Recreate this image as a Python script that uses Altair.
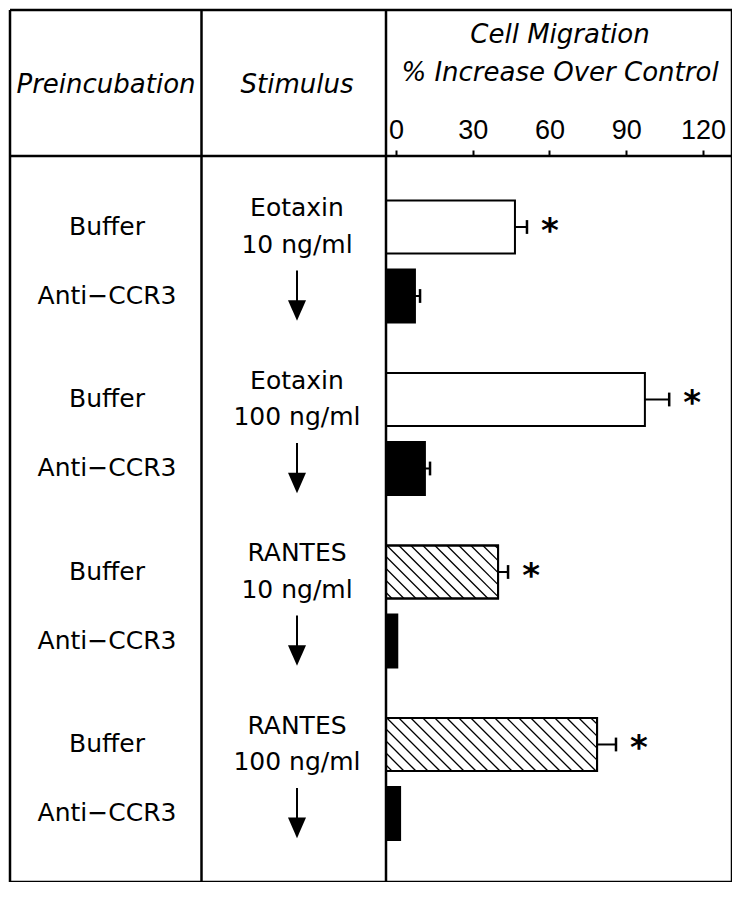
import altair as alt
import pandas as pd

# ---------------- data ----------------
stimulus_names = ["Eotaxin", "Eotaxin", "RANTES", "RANTES"]
stimulus_doses = ["10 ng/ml", "100 ng/ml", "10 ng/ml", "100 ng/ml"]
preincubations = ["Buffer", "Anti\u2212CCR3"]
migration_mean = [46.5, 7.4, 97.3, 11.3, 39.9, 0.5, 78.6, 1.6]
migration_sem = [4.7, 2.0, 9.5, 2.0, 3.9, 0.0, 7.4, 0.0]
significant = [True, False, True, False, True, False, True, False]
tick_values = [0, 30, 60, 90, 120]
header_pre = "Preincubation"
header_stim = "Stimulus"
header_title = ["Cell Migration", "% Increase Over Control"]

# ---------------- layout ----------------
W, H = 722, 872
COL1, COL2, HEADER_Y = 191.5, 376, 146
X_MIN, X_MAX = -3.91, 131.35
Y_MIN, Y_MAX = -3.145, 9.493
GROUP_STEP = 2.5
BAR_HALF = 0.385
PXX = (W - COL2) / (X_MAX - X_MIN)
PXY = H / (Y_MAX - Y_MIN)
FONT = "DejaVu Sans"

rows = []
for i, m in enumerate(migration_mean):
    g, k = divmod(i, 2)
    pos = g * GROUP_STEP + k
    if k == 1:
        kind = "solid"
    elif stimulus_names[g] == "RANTES":
        kind = "hatched"
    else:
        kind = "open"
    rows.append(dict(stimulus=stimulus_names[g], dose=stimulus_doses[g],
                     preincubation=preincubations[k], mean=m,
                     sem=migration_sem[i], hi=m + migration_sem[i],
                     sig=significant[i], pos=pos, y0=pos - BAR_HALF,
                     y1=pos + BAR_HALF, kind=kind))
df = pd.DataFrame(rows)

# hatch segments derived from hatched bars
hatch = []
Hpx = 2 * BAR_HALF * PXY
SPACING = 12.0
for r in rows:
    if r["kind"] != "hatched":
        continue
    Rpx = (r["mean"] - X_MIN) * PXX
    x0 = -Hpx + 6
    while x0 < Rpx:
        t0 = max(0.0, (0 - x0) / Hpx)
        t1 = min(1.0, (Rpx - x0) / Hpx)
        if t1 > t0:
            hatch.append(dict(xa=X_MIN + (x0 + t0 * Hpx) / PXX,
                              xb=X_MIN + (x0 + t1 * Hpx) / PXX,
                              ya=r["y0"] + t0 * Hpx / PXY,
                              yb=r["y0"] + t1 * Hpx / PXY))
        x0 += SPACING
hatch_df = pd.DataFrame(hatch)

stim_rows = []
for g in range(4):
    c = g * GROUP_STEP
    stim_rows.append(dict(text=stimulus_names[g], ty=c - 0.27, c=c))
    stim_rows.append(dict(text=stimulus_doses[g], ty=c + 0.26, c=c))
stim_df = pd.DataFrame(stim_rows)
arrow_df = pd.DataFrame(dict(c=[g * GROUP_STEP for g in range(4)]))

x_scale = alt.Scale(domain=[X_MIN, X_MAX], range=[COL2, W], nice=False, zero=False)
y_scale = alt.Scale(domain=[Y_MIN, Y_MAX], range=[0, H], nice=False, zero=False)

x_axis = alt.Axis(orient="top", offset=-HEADER_Y, values=tick_values, tickSize=6,
                  tickWidth=2, tickColor="black", domain=False, grid=False,
                  labelFont="Liberation Sans", labelFontSize=27, labelColor="black",
                  labelBaseline="alphabetic", labelPadding=12, labelFlush=False,
                  labelOverlap=False, title=None)


def X(field):
    return alt.X(field, scale=x_scale, axis=x_axis)


def Y(field):
    return alt.Y(field, scale=y_scale, axis=None)


bars = alt.Chart(df).mark_bar(stroke="black", strokeWidth=2).encode(
    x=X("mean:Q"),
    x2=alt.datum(X_MIN),
    y=Y("y0:Q"),
    y2="y1:Q",
    fill=alt.Fill("kind:N", scale=alt.Scale(domain=["open", "solid", "hatched"],
                                            range=["white", "black", "white"]),
                  legend=None),
)

hatch_lines = alt.Chart(hatch_df).mark_rule(color="black", strokeWidth=1.3).encode(
    x=X("xa:Q"), x2="xb:Q",
    y=Y("ya:Q"), y2="yb:Q",
)

outlines = alt.Chart(df).transform_filter("datum.kind == 'hatched'").mark_bar(
    stroke="black", strokeWidth=2, fillOpacity=0).encode(
    x=X("mean:Q"),
    x2=alt.datum(X_MIN),
    y=Y("y0:Q"),
    y2="y1:Q",
)

err = alt.Chart(df).transform_filter("datum.sem > 0").mark_rule(
    color="black", strokeWidth=2).encode(
    x=X("mean:Q"), x2="hi:Q",
    y=Y("pos:Q"),
)

caps = alt.Chart(df).transform_filter("datum.sem > 0").transform_calculate(
    c0="datum.pos - 0.1", c1="datum.pos + 0.1").mark_rule(
    color="black", strokeWidth=2.5).encode(
    x=X("hi:Q"),
    y=Y("c0:Q"), y2="c1:Q",
)

stars = alt.Chart(df).transform_filter("datum.sig").mark_text(
    text="*", font=FONT, fontSize=34, dx=23, dy=15, baseline="alphabetic",
    align="center", color="black", fontWeight="bold").encode(
    x=X("hi:Q"),
    y=Y("pos:Q"),
)

pre_labels = alt.Chart(df).mark_text(font=FONT, fontSize=25, align="center",
                                     baseline="middle", color="black").encode(
    x=alt.value(97),
    y=Y("pos:Q"),
    text="preincubation:N",
)

stim_labels = alt.Chart(stim_df).mark_text(font=FONT, fontSize=25, align="center",
                                           baseline="middle", color="black").encode(
    x=alt.value(287),
    y=Y("ty:Q"),
    text="text:N",
)

shafts = alt.Chart(arrow_df).transform_calculate(
    s0="datum.c + 0.63", s1="datum.c + 1.2").mark_rule(
    color="black", strokeWidth=2).encode(
    x=alt.value(287),
    y=Y("s0:Q"), y2="s1:Q",
)

heads = alt.Chart(arrow_df).transform_calculate(h="datum.c + 1.21").mark_point(
    shape="M-1,-1.15L1,-1.15L0,1.15Z", size=324, filled=True, color="black",
    opacity=1).encode(
    x=alt.value(287),
    y=Y("h:Q"),
)

one = pd.DataFrame({"v": [0]})


def vline(x):
    return alt.Chart(one).mark_rule(color="black", strokeWidth=2.5).encode(
        x=alt.value(x), y=alt.value(0), y2=alt.value(H))


def hline(y):
    return alt.Chart(one).mark_rule(color="black", strokeWidth=2.5).encode(
        x=alt.value(0), x2=alt.value(W), y=alt.value(y))


table_lines = [vline(0), vline(COL1), vline(COL2), vline(W),
               hline(0), hline(HEADER_Y), hline(H)]


def header(text, x, y):
    return alt.Chart(one).mark_text(text=text, font=FONT, fontStyle="italic",
                                    fontSize=26, align="center", baseline="middle",
                                    color="black").encode(x=alt.value(x), y=alt.value(y))


headers = [
    header(header_pre, 96, 75),
    header(header_stim, 287, 75),
    header(header_title[0], 550, 25),
    header(header_title[1], 550, 63),
]

chart = alt.layer(
    bars, hatch_lines, outlines, err, caps, stars, pre_labels, stim_labels,
    shafts, heads, *table_lines, *headers
).properties(
    width=W, height=H,
    background="white",
    autosize=alt.AutoSizeParams(type="none"),
    padding={"left": 2, "top": 2, "right": 0, "bottom": 0},
).configure_view(stroke=None)

chart.save("out.html", embed_options={"renderer": "svg", "actions": False})
